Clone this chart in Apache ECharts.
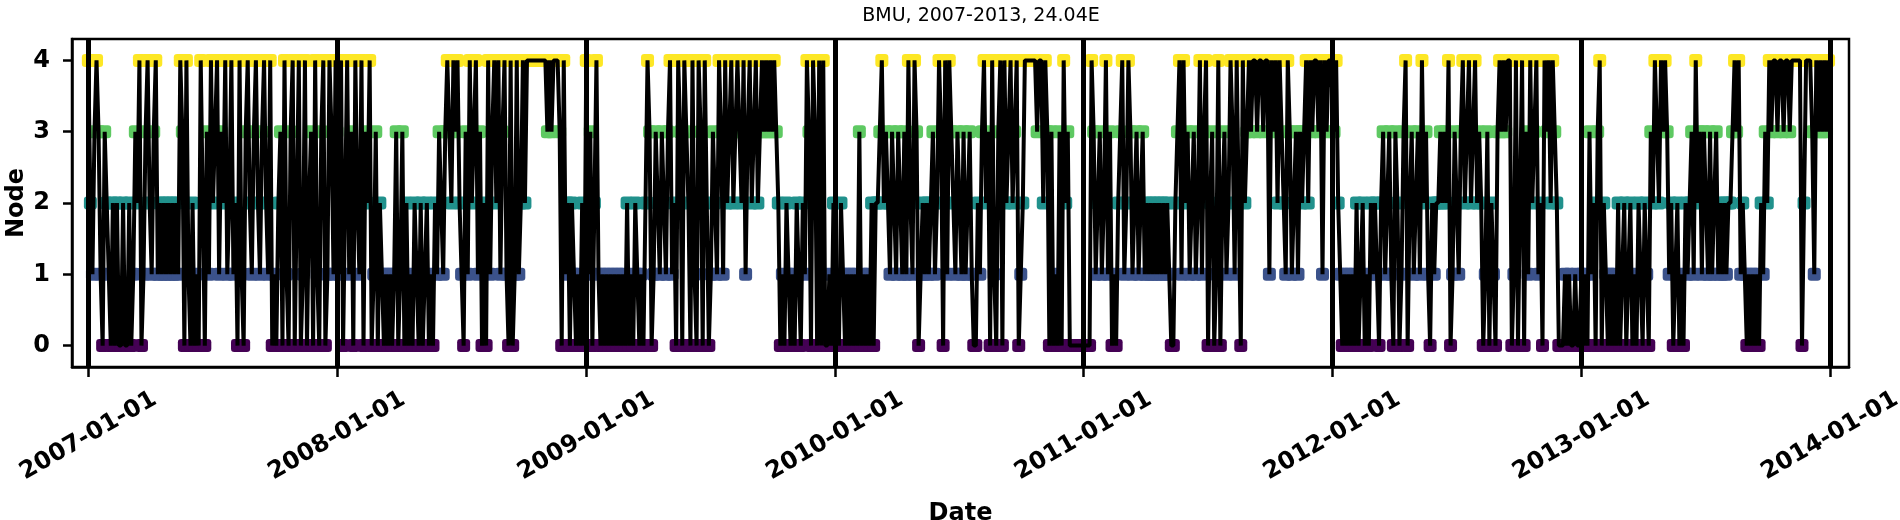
<!DOCTYPE html>
<html>
<head>
<meta charset="utf-8">
<script src="https://cdn.jsdelivr.net/npm/echarts@6/dist/echarts.min.js"></script>
<style>
html,body{margin:0;padding:0;background:#fff;}
#chart{width:1900px;height:520px;}
</style>
</head>
<body>
<div id="chart"></div>
<script>
// BMU node per 3-day step (one digit per step, starting Jan 1)
const node2007 = "4213431032" + "1020200200" + "2013240134" + "2134121212" + "1212143041" + "0201042031" + "4234132412" + "4120410342" + "1342134214" + "0102304103" + "4024014023" + "0410340143" + "14";
const node2008 = "3140241304" + "2140324013" + "0210" + "10101" + "30130" + "201021020120102" + "13213" + "4324342" + "1031" + "42341" + "3020" + "4134241341" + "040141" + "2424" + "444444444" + "34344" + "430412" + "02101020";
const node2009 = "413024" + "10101010101010" + "2010210102" + "4301" + "3213213" + "412043043" + "204104" + "30420" + "1321431" + "4234234324" + "13" + "42342343" + "4343432" + "0102101021021" + "430430404" + "00102";
const node2010 = "0102" + "101010103" + "01010" + "2022" + "34232" + "132132131" + "421430" + "121212" + "312430414" + "321321312" + "3100213" + "4230410340" + "4234234012" + "444444" + "34424" + "303010" + "304230" + "000000";
const node2011 = "0000" + "4312312" + "413010234" + "12431231231" + "2121212121210" + "0234142" + "312312" + "4134" + "02301402" + "3124314204" + "2343443443" + "441434" + "24321431231" + "32342434" + "43414344";
const node2012 = "43421" + "0101010" + "2012010212102" + "31231" + "03201340" + "231231" + "42310212" + "23232" + "4013213" + "4234234" + "232" + "01302103" + "4343440" + "1402403142" + "34120434243" + "200010100100";
const node2013 = "1010" + "312034021" + "010102" + "012012010210210" + "32432434" + "312" + "0120102" + "12" + "31423" + "132131231" + "21212" + "234341" + "21010101021" + "32434434434434" + "444402444" + "314343434";

const years = [2007, 2008, 2009, 2010, 2011, 2012, 2013];
const yearSeries = [node2007, node2008, node2009, node2010, node2011, node2012, node2013];
const stepDays = 3;
const boundaryYears = [2007, 2008, 2009, 2010, 2011, 2012, 2013, 2014];
const nodeTicks = [0, 1, 2, 3, 4];
const nodeColors = ['#440154', '#3b528b', '#21918c', '#5ec962', '#fde725'];

const points = [];
years.forEach((y, k) => {
  const s = yearSeries[k];
  for (let i = 0; i < s.length; i++) {
    points.push([new Date(y, 0, 1 + stepDays * i).getTime(), Number(s[i])]);
  }
});
const boundaries = boundaryYears.map(y => new Date(y, 0, 1).getTime());

const FONT = 'DejaVu Sans';
const fmt = v => { const d = new Date(v); return d.getFullYear() + '-' + String(d.getMonth() + 1).padStart(2, '0') + '-' + String(d.getDate()).padStart(2, '0'); };
const chart = echarts.init(document.getElementById('chart'), null, {renderer: 'canvas'});
chart.setOption({
  animation: false,
  backgroundColor: '#fff',
  title: {
    text: 'BMU, 2007-2013, 24.04E',
    left: 976, top: 2, textAlign: 'center',
    textStyle: {fontFamily: FONT, fontSize: 19, fontWeight: 'normal', color: '#000'}
  },
  grid: {left: 72, right: 51, top: 39, bottom: 153, containLabel: false, outerBoundsMode: 'none',
         show: true, borderColor: '#000', borderWidth: 2.5, backgroundColor: 'transparent'},
  xAxis: {
    type: 'value',
    min: new Date(2006, 11, 8).getTime(),
    max: new Date(2014, 0, 29).getTime(),
    name: 'Date', nameLocation: 'middle', nameGap: 135, nameMoveOverlap: false,
    nameTextStyle: {fontFamily: FONT, fontSize: 24, fontWeight: 'bold', color: '#000'},
    axisLine: {show: true, onZero: false, lineStyle: {color: '#000', width: 2.5}},
    axisTick: {show: true, length: 10, lineStyle: {color: '#000', width: 2.5}, customValues: boundaries},
    axisLabel: {
      customValues: boundaries, rotate: 30, align: 'center', verticalAlign: 'middle', margin: 69,
      fontFamily: FONT, fontSize: 24, fontWeight: 'bold', color: '#000', hideOverlap: false,
      showMinLabel: true, showMaxLabel: true,
      formatter: fmt
    },
    splitLine: {show: false}
  },
  yAxis: {
    type: 'value', min: -0.3, max: 4.3,
    name: 'Node', nameLocation: 'middle', nameGap: 43, nameRotate: 90, nameMoveOverlap: false,
    nameTextStyle: {fontFamily: FONT, fontSize: 24, fontWeight: 'bold', color: '#000'},
    axisLine: {show: true, lineStyle: {color: '#000', width: 2.5}},
    axisTick: {show: true, length: 9, lineStyle: {color: '#000', width: 2.5}, customValues: nodeTicks},
    axisLabel: {customValues: nodeTicks, margin: 22, fontFamily: FONT, fontSize: 24, fontWeight: 'bold', color: '#000'},
    splitLine: {show: false}
  },
  series: [
    {
      type: 'scatter', data: points, z: 2,
      symbol: 'roundRect', symbolSize: 13,
      itemStyle: {color: p => nodeColors[p.value[1]], opacity: 1},
      silent: true
    },
    {
      type: 'line', data: points, z: 3, showSymbol: false, symbol: 'none',
      lineStyle: {color: '#000', width: 4}, silent: true,
      markLine: {
        silent: true, symbol: ['none', 'none'], label: {show: false},
        lineStyle: {color: '#000', width: 5, type: 'solid'},
        data: boundaries.map(b => ({xAxis: b}))
      }
    }
  ]
});
</script>
</body>
</html>
